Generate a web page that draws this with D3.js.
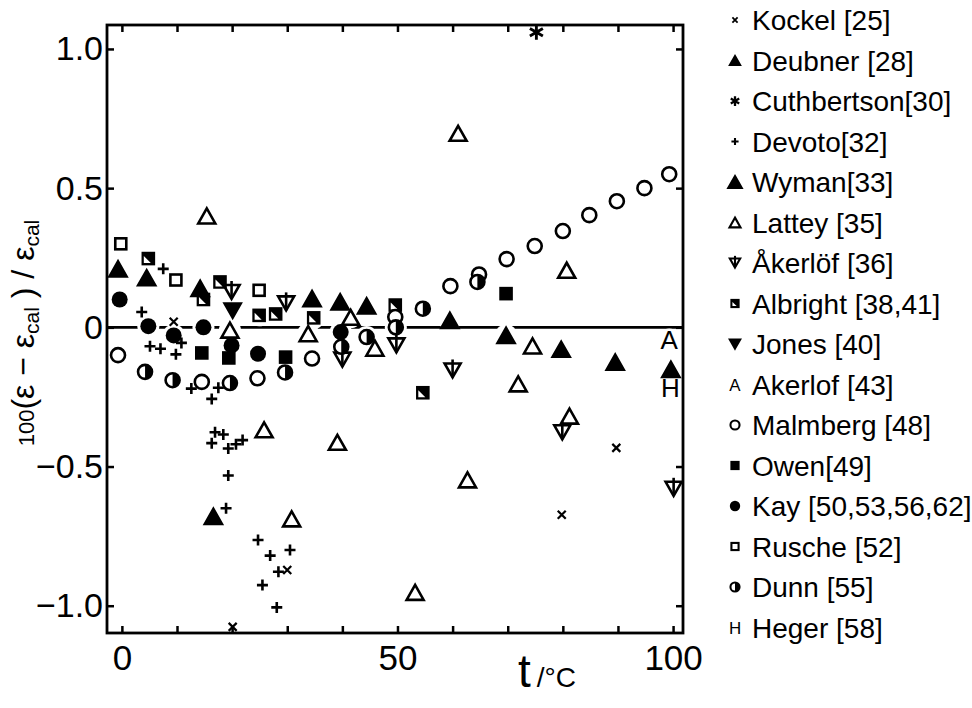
<!DOCTYPE html>
<html>
<head>
<meta charset="utf-8">
<script src="https://cdn.jsdelivr.net/npm/d3@7"></script>
<style>
  body { margin: 0; background: #fff; }
  svg { display: block; font-family: "Liberation Sans", Arial, sans-serif; }
</style>
</head>
<body>
<script>
// series: [t in °C, 100(eps - eps_cal)/eps_cal]
var kockel = [[9.4, 0.02], [20.1, -1.076], [30.0, -0.872], [79.8, -0.673], [89.7, -0.433]];
var deubner = [[16.6, -0.679]];
var cuthbertson = [[75.2, 1.06]];
var devoto = [[3.6, 0.055], [5.1, -0.068], [7.0, -0.077], [7.5, 0.21], [9.8, -0.097], [10.8, -0.056],
  [12.6, -0.22], [16.3, -0.257], [17.5, -0.217], [16.9, -0.377], [18.4, -0.385], [16.3, -0.416],
  [19.3, -0.435], [20.7, -0.42], [21.9, -0.405], [19.3, -0.532], [18.9, -0.65], [24.7, -0.764],
  [26.9, -0.82], [30.5, -0.80], [28.4, -0.878], [25.5, -0.926], [28.1, -1.006]];
var wyman = [[-0.7, 0.21], [4.5, 0.178], [14.2, 0.14], [34.5, 0.103], [39.6, 0.091], [44.4, 0.077],
  [59.5, 0.025], [69.7, -0.029], [79.7, -0.079], [89.5, -0.125], [99.6, -0.151]];
var lattey = [[15.4, 0.40], [19.6, -0.01], [25.8, -0.368], [30.8, -0.688], [33.8, -0.023], [39.1, -0.413],
  [41.5, 0.036], [45.9, -0.075], [53.2, -0.952], [61.0, 0.697], [62.7, -0.548], [71.9, -0.203],
  [74.5, -0.067], [80.7, 0.205], [81.2, -0.319]];
var akerlof36 = [[19.9, 0.127], [29.8, 0.086], [40.0, -0.116], [49.8, -0.065], [60.0, -0.155], [79.9, -0.377], [100.1, -0.58]];
var albright = [[4.8, 0.247], [14.8, 0.10], [17.8, 0.163], [24.9, 0.043], [27.9, 0.048], [34.8, 0.034], [49.6, 0.08], [54.6, -0.235]];
var jones = [[20.1, 0.06]];
var akerlof43 = [[99.3, -0.044]];
var malmberg = [[-0.7, -0.10], [14.5, -0.196], [24.6, -0.183], [34.5, -0.112], [49.6, 0.037], [59.6, 0.148],
  [64.8, 0.19], [69.8, 0.245], [74.9, 0.292], [80.0, 0.346], [84.8, 0.403], [89.8, 0.453], [94.8, 0.50], [99.3, 0.55]];
var owen = [[14.5, -0.092], [19.4, -0.11], [29.7, -0.107], [69.7, 0.121]];
var kay = [[-0.4, 0.10], [4.8, 0.004], [9.4, -0.029], [14.8, 0.0], [19.9, -0.065], [24.7, -0.095], [39.7, -0.017]];
var rusche = [[-0.2, 0.30], [9.8, 0.17], [24.9, 0.133]];
var dunn = [[4.2, -0.16], [9.2, -0.19], [19.6, -0.20], [29.6, -0.162], [39.8, -0.07], [44.4, -0.035], [49.7, 0.0], [54.6, 0.067], [64.5, 0.163]];
var heger = [[99.5, -0.215]];

var seriesNames = ["Kockel [25]", "Deubner [28]", "Cuthbertson[30]", "Devoto[32]", "Wyman[33]", "Lattey [35]",
  "Åkerlöf [36]", "Albright [38,41]", "Jones [40]", "Akerlof [43]", "Malmberg [48]", "Owen[49]",
  "Kay [50,53,56,62]", "Rusche [52]", "Dunn [55]", "Heger [58]"];
var seriesSymbols = ["cross", "triSmall", "star", "plus", "triFill", "triOpen", "akerlof", "albright",
  "triDown", "letterA", "circOpen", "sqFill", "circFill", "sqOpen", "halfCirc", "letterH"];
var seriesData = [kockel, deubner, cuthbertson, devoto, wyman, lattey, akerlof36, albright,
  jones, akerlof43, malmberg, owen, kay, rusche, dunn, heger];

var xTicks = d3.range(0, 101, 10);
var xLabels = [0, 50, 100];
var yTicks = [-1, -0.5, 0, 0.5, 1];

var W = 972, H = 708;
var svg = d3.select("body").append("svg").attr("width", W).attr("height", H);

var x = d3.scaleLinear().domain([-2.7, 101.8]).range([107, 683]);
var y = d3.scaleLinear().domain([-1.098, 1.086]).range([633, 25]);

// marker drawing
function drawSymbol(g, type, k) {
  var sw = 2.6 * Math.max(k, 0.8);
  if (type === "cross") {
    var a = 4 * k;
    g.append("path").attr("d", "M" + -a + "," + -a + "L" + a + "," + a + "M" + -a + "," + a + "L" + a + "," + -a)
      .attr("stroke", "#000").attr("stroke-width", sw * 0.85);
  } else if (type === "plus") {
    var p = 5.5 * k;
    g.append("path").attr("d", "M" + -p + ",0L" + p + ",0M0," + -p + "L0," + p)
      .attr("stroke", "#000").attr("stroke-width", sw);
  } else if (type === "star") {
    var r = 7.5 * k;
    var d = "";
    [90, 30, -30].forEach(function (ang) {
      var c = Math.cos(ang * Math.PI / 180) * r, s = Math.sin(ang * Math.PI / 180) * r;
      d += "M" + -c + "," + -s + "L" + c + "," + s;
    });
    g.append("path").attr("d", d).attr("stroke", "#000").attr("stroke-width", sw * 1.1);
  } else if (type === "triFill" || type === "triOpen" || type === "triSmall") {
    var w = 8.5 * k, h = 7.5 * k;
    g.append("path").attr("d", "M0," + (-h) + "L" + w + "," + h + "L" + -w + "," + h + "Z")
      .attr("fill", type === "triOpen" ? "#fff" : "#000")
      .attr("stroke", "#000").attr("stroke-width", sw).attr("stroke-linejoin", "miter");
  } else if (type === "triDown" || type === "akerlof") {
    var w2 = 8 * k, h2 = 7 * k;
    g.append("path").attr("d", "M0," + h2 + "L" + w2 + "," + -h2 + "L" + -w2 + "," + -h2 + "Z")
      .attr("fill", type === "triDown" ? "#000" : "#fff")
      .attr("stroke", "#000").attr("stroke-width", sw);
    if (type === "akerlof") {
      g.append("path").attr("d", "M0," + (-h2 - 4 * k) + "L0," + h2)
        .attr("stroke", "#000").attr("stroke-width", sw);
    }
  } else if (type === "circOpen" || type === "circFill") {
    g.append("circle").attr("r", (type === "circFill" ? 8 : 7) * k)
      .attr("fill", type === "circFill" ? "#000" : "#fff")
      .attr("stroke", "#000").attr("stroke-width", type === "circFill" ? 0 : sw);
  } else if (type === "halfCirc") {
    var rr = 7 * k;
    g.append("circle").attr("r", rr).attr("fill", "#fff").attr("stroke", "#000").attr("stroke-width", sw);
    g.append("path").attr("d", "M0," + -rr + "A" + rr + "," + rr + " 0 0 1 0," + rr + "Z").attr("fill", "#000");
  } else if (type === "sqFill" || type === "sqOpen") {
    var q = 5.5 * k;
    g.append("rect").attr("x", -q).attr("y", -q).attr("width", 2 * q).attr("height", 2 * q)
      .attr("fill", type === "sqFill" ? "#000" : "#fff")
      .attr("stroke", "#000").attr("stroke-width", sw);
  } else if (type === "albright") {
    var b = 5.5 * k;
    g.append("rect").attr("x", -b).attr("y", -b).attr("width", 2 * b).attr("height", 2 * b)
      .attr("fill", "#000").attr("stroke", "#000").attr("stroke-width", sw);
    g.append("path").attr("d", "M" + (-b + 1) + "," + (-b + 3 * k) + "L" + (-b + 1) + "," + (b - 1) + "L" + (b - 3 * k) + "," + (b - 1) + "Z")
      .attr("fill", "#fff");
  } else if (type === "letterA" || type === "letterH") {
    g.append("text").attr("text-anchor", "middle").attr("dy", "0.36em")
      .attr("font-size", 26 * k).attr("font-weight", "normal")
      .text(type === "letterA" ? "A" : "H");
  }
}

// frame ticks (inward)
var tickStyle = function (g) {
  g.select(".domain").remove();
  g.selectAll(".tick line").attr("stroke", "#000").attr("stroke-width", 2.5);
};
svg.append("g").attr("transform", "translate(0,633)")
  .call(d3.axisBottom(x).tickValues(xTicks).tickSize(-7).tickPadding(12)
    .tickFormat(function (d) { return xLabels.indexOf(d) >= 0 ? d : ""; }))
  .call(tickStyle)
  .selectAll("text").attr("font-size", 35).attr("font-family", "Liberation Sans, Arial, sans-serif").attr("fill", "#000");
svg.append("g").attr("transform", "translate(0,25)")
  .call(d3.axisTop(x).tickValues(xTicks).tickSize(-7).tickFormat(""))
  .call(tickStyle);
svg.append("g").attr("transform", "translate(107,0)")
  .call(d3.axisLeft(y).tickValues(yTicks).tickSize(-7).tickPadding(4)
    .tickFormat(function (d) { return d === 0 ? "0" : d3.format(".1f")(d).replace("-", "−"); }))
  .call(tickStyle)
  .selectAll("text").attr("font-size", 34).attr("font-family", "Liberation Sans, Arial, sans-serif").attr("fill", "#000");
svg.append("g").attr("transform", "translate(683,0)")
  .call(d3.axisRight(y).tickValues(yTicks).tickSize(-7).tickFormat(""))
  .call(tickStyle);

svg.append("rect").attr("x", 107).attr("y", 25).attr("width", 683 - 107).attr("height", 633 - 25)
  .attr("fill", "none").attr("stroke", "#000").attr("stroke-width", 2.8);

// zero line
svg.append("line").attr("x1", 107).attr("x2", 683).attr("y1", y(0)).attr("y2", y(0))
  .attr("stroke", "#000").attr("stroke-width", 2.6);

// white halos break the zero line around markers
var halo = svg.append("g");
var marks = svg.append("g");
seriesData.forEach(function (data, i) {
  data.forEach(function (p) {
    if (Math.abs(p[1]) < 0.06 && seriesSymbols[i] !== "plus" && seriesSymbols[i] !== "cross") {
      halo.append("circle").attr("cx", x(p[0])).attr("cy", y(p[1])).attr("r", 11).attr("fill", "#fff");
    }
  });
});
seriesData.forEach(function (data, i) {
  data.forEach(function (p) {
    var g = marks.append("g").attr("transform", "translate(" + x(p[0]) + "," + y(p[1]) + ")");
    drawSymbol(g, seriesSymbols[i], 1);
  });
});

// axis titles
var xt = svg.append("text").attr("x", 518).attr("y", 687).attr("fill", "#000");
xt.append("tspan").attr("font-size", 46).text("t");
xt.append("tspan").attr("font-size", 28).attr("dx", 6).text("/°C");

var yt = svg.append("text").attr("transform", "translate(34,333) rotate(-90)")
  .attr("text-anchor", "middle").attr("fill", "#000");
yt.append("tspan").attr("font-size", 22).text("100");
yt.append("tspan").attr("font-size", 32).text("(ε − ε");
yt.append("tspan").attr("font-size", 21).attr("dy", 5).text("cal");
yt.append("tspan").attr("font-size", 32).attr("dy", -5).text(" ) / ε");
yt.append("tspan").attr("font-size", 21).attr("dy", 5).text("cal");

// legend
var legend = svg.append("g");
seriesNames.forEach(function (name, i) {
  var cy = 20 + i * 40.5;
  var g = legend.append("g").attr("transform", "translate(735," + cy + ")");
  var k = seriesSymbols[i] === "triSmall" ? 0.6 : (seriesSymbols[i] === "triFill" ? 0.8 : 0.65);
  drawSymbol(g, seriesSymbols[i], k);
  legend.append("text").attr("x", 752).attr("y", cy + 10).attr("font-size", 28).attr("fill", "#000").text(name);
});
</script>
</body>
</html>
